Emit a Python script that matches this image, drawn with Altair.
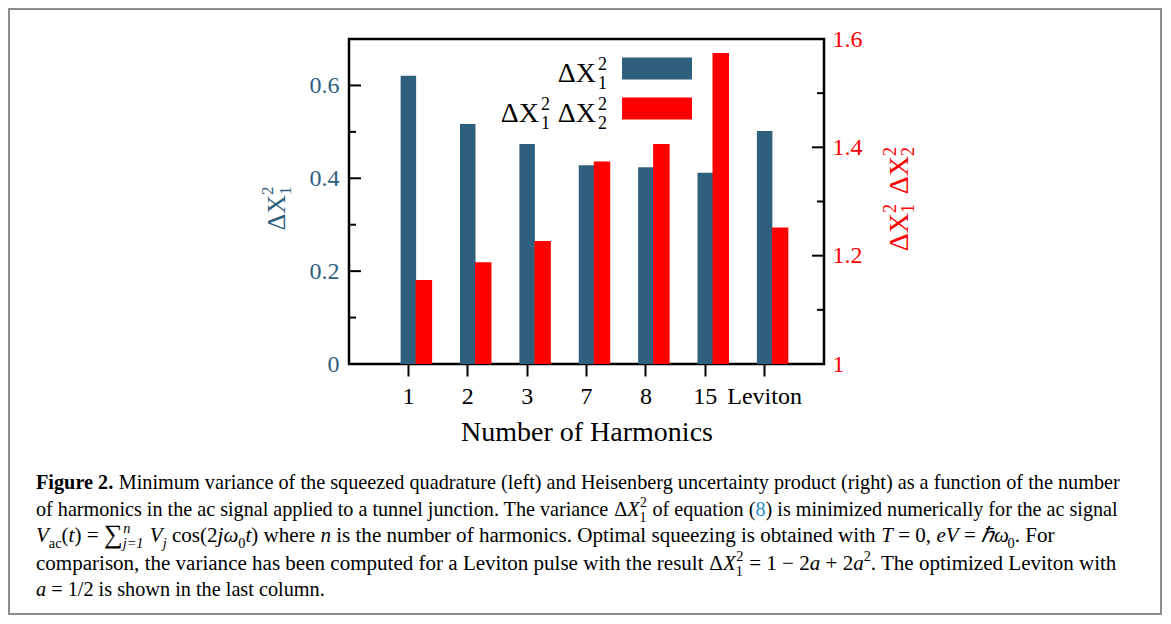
import glob
import struct
import altair as alt
import pandas as pd

# ---------------- data ----------------
harmonics = ["1", "2", "3", "7", "8", "15", "Leviton"]
var_x1 = [0.621, 0.517, 0.474, 0.428, 0.424, 0.412, 0.502]
uncertainty = [1.155, 1.188, 1.227, 1.374, 1.406, 1.574, 1.252]
left_major = [0.0, 0.2, 0.4, 0.6]
left_minor = [0.1, 0.3, 0.5]
right_major = [1.0, 1.2, 1.4, 1.6]
right_minor = [1.1, 1.3, 1.5]

BLUE = "#2F5F7F"
RED = "#FF0000"
LINK = "#2b8ccc"
SERIF = "Liberation Serif"
W, H = 475, 325          # plot area
OX, OY = 349, 39         # page position of plot origin

# ---------------- font metrics (for caption layout) ----------------
def load_metrics(filename):
    try:
        paths = []
        for root in ("/usr/share/fonts", "/usr/local/share/fonts"):
            paths += glob.glob(root + "/**/" + filename, recursive=True)
        if not paths:
            return None
        data = open(paths[0], "rb").read()
        ntab = struct.unpack(">H", data[4:6])[0]
        tables = {}
        for i in range(ntab):
            off = 12 + 16 * i
            tag = data[off:off + 4].decode("latin-1")
            _, toff, tlen = struct.unpack(">III", data[off + 4:off + 16])
            tables[tag] = toff
        head = tables["head"]
        upem = struct.unpack(">H", data[head + 18:head + 20])[0]
        hhea = tables["hhea"]
        nhm = struct.unpack(">H", data[hhea + 34:hhea + 36])[0]
        hm = tables["hmtx"]
        adv = [struct.unpack(">H", data[hm + 4 * i:hm + 4 * i + 2])[0] for i in range(nhm)]
        cm = tables["cmap"]
        nsub = struct.unpack(">H", data[cm + 2:cm + 4])[0]
        o = None
        for i in range(nsub):
            pid, eid, soff = struct.unpack(">HHI", data[cm + 4 + 8 * i:cm + 12 + 8 * i])
            fmt = struct.unpack(">H", data[cm + soff:cm + soff + 2])[0]
            if fmt == 4 and pid in (0, 3):
                o = cm + soff
                break
        if o is None:
            return None
        segx2 = struct.unpack(">H", data[o + 6:o + 8])[0]
        seg = segx2 // 2
        ends = struct.unpack(">%dH" % seg, data[o + 14:o + 14 + segx2])
        starts = struct.unpack(">%dH" % seg, data[o + 16 + segx2:o + 16 + 2 * segx2])
        deltas = struct.unpack(">%dh" % seg, data[o + 16 + 2 * segx2:o + 16 + 3 * segx2])
        rpos = o + 16 + 3 * segx2
        roffs = struct.unpack(">%dH" % seg, data[rpos:rpos + segx2])

        def gid(c):
            for i in range(seg):
                if c <= ends[i]:
                    if c < starts[i]:
                        return 0
                    if roffs[i] == 0:
                        return (c + deltas[i]) & 0xFFFF
                    addr = rpos + 2 * i + roffs[i] + 2 * (c - starts[i])
                    g = struct.unpack(">H", data[addr:addr + 2])[0]
                    return (g + deltas[i]) & 0xFFFF if g else 0
            return 0

        def width(s, size):
            w = 0.0
            for ch in s:
                g = gid(ord(ch))
                w += adv[min(g, nhm - 1)] if g else 0.55 * upem
            return w * size / upem
        return width
    except Exception:
        return None


METRICS = {
    "r": load_metrics("LiberationSerif-Regular.ttf"),
    "i": load_metrics("LiberationSerif-Italic.ttf"),
    "b": load_metrics("LiberationSerif-Bold.ttf"),
}


def measure(s, kind, size):
    f = METRICS.get(kind)
    if f is None:
        return len(s) * 0.45 * size
    return f(s, size)


# ---------------- caption content ----------------
def R(t, c="black"):
    return (t, "r", 1.0, 0.0, c)


def I(t):
    return (t, "i", 1.0, 0.0, "black")


def B(t):
    return (t, "b", 1.0, 0.0, "black")


def SUB(t, k="r"):
    return (t, k, 0.68, 0.28, "black")


def SUP(t, k="r"):
    return (t, k, 0.68, -0.42, "black")


def STK(sup, sub, k="r"):
    return ("stack", sup, sub, k)


caption_lines = [
    [B("Figure 2."), R(" Minimum variance of the squeezed quadrature (left) and Heisenberg uncertainty product (right) as a function of the number")],
    [R("of harmonics in the ac signal applied to a tunnel junction. The variance "), R("Δ"), I("X"), STK("2", "1"),
     R(" of equation ("), R("8", LINK), R(") is minimized numerically for the ac signal")],
    [I("V"), SUB("ac"), R("("), I("t"), R(") = "), ("∑", "r", 1.25, 0.04, "black"), STK("n", "j=1", "i"), R(" "),
     I("V"), SUB("j", "i"), R(" cos(2"), I("jω"), SUB("0"), I("t"), R(") where "), I("n"),
     R(" is the number of harmonics. Optimal squeezing is obtained with "), I("T"), R(" = 0, "), I("eV"),
     R(" = "), I("ℏω"), SUB("0"), R(". For")],
    [R("comparison, the variance has been computed for a Leviton pulse with the result "), R("Δ"), I("X"), STK("2", "1"),
     R(" = 1 − 2"), I("a"), R(" + 2"), I("a"), SUP("2"), R(". The optimized Leviton with")],
    [I("a"), R(" = 1/2 is shown in the last column.")],
]
caption_baselines = [489, 515.5, 542, 569.5, 596]
caption_targets = [1085, 1082, 1040, 1081, 289]
CAP_X = 36


def layout(segs, size):
    items = []
    x = 0.0
    for seg in segs:
        if seg[0] == "stack":
            _, sup, sub, kind = seg
            fs = size * 0.68
            w = max(measure(sup, kind, fs), measure(sub, kind, fs))
            items.append((sup, kind, fs, x + 0.5, -0.42 * size, "black"))
            items.append((sub, kind, fs, x, 0.30 * size, "black"))
            x += w + 1
        else:
            text, kind, scl, dyf, color = seg
            fs = size * scl
            lead = len(text) - len(text.lstrip(" "))
            lw = measure(" " * lead, kind, fs)
            items.append((text.lstrip(" "), kind, fs, x + lw, dyf * size, color))
            x += measure(text, kind, fs)
    return items, x


_, w1 = layout(caption_lines[0], 1.0)
BASE = min(21.0, max(16.0, caption_targets[0] / w1))


def text_layer(s, x, y, size, color="black", align="left", style="normal", weight="normal", angle=0, dy=0):
    mk = dict(align=align, baseline="alphabetic", font=SERIF, fontSize=size, color=color,
              fontStyle=style, fontWeight=weight)
    if angle:
        mk["angle"] = angle
    if dy:
        mk["dy"] = dy
    return alt.Chart(pd.DataFrame({"s": [s]})).mark_text(**mk).encode(
        text="s:N", x=alt.value(x - OX), y=alt.value(y - OY))


caption_layers = []
for segs, base_y, target in zip(caption_lines, caption_baselines, caption_targets):
    _, wl = layout(segs, BASE)
    fac = min(1.04, max(0.97, target / wl))
    items, _ = layout(segs, BASE * fac)
    for text, kind, fs, xo, dyo, color in items:
        if not text:
            continue
        caption_layers.append(text_layer(
            text, CAP_X + xo, base_y + dyo, fs, color=color,
            style="italic" if kind == "i" else "normal",
            weight="bold" if kind == "b" else "normal"))

# ---------------- chart ----------------
df = pd.DataFrame({"n": harmonics, "v": var_x1, "u": uncertainty})

xenc = alt.X(
    "n:N", sort=harmonics,
    scale=alt.Scale(paddingInner=0, paddingOuter=0.5),
    axis=alt.Axis(title="Number of Harmonics", labelAngle=0, labelFont=SERIF, labelFontSize=24,
                  labelColor="black", tickSize=12, tickColor="black", tickWidth=2, domain=False,
                  labelPadding=8, titleFont=SERIF, titleFontSize=28, titleFontWeight="normal",
                  titlePadding=10, titleColor="black", grid=False))

left_scale = alt.Scale(domain=[0, 0.7], nice=False, zero=False)
right_scale = alt.Scale(domain=[1, 1.6], nice=False, zero=False)

left_axis = alt.Axis(title=None, orient="left", values=left_major,
                     labelExpr="datum.value == 0 ? '0' : format(datum.value, '.1f')",
                     ticks=False, tickSize=0, domain=False, grid=False,
                     labelFont=SERIF, labelFontSize=24, labelColor=BLUE, labelPadding=10)
right_axis = alt.Axis(title=None, orient="right", values=right_major,
                      labelExpr="datum.value == 1 ? '1' : format(datum.value, '.1f')",
                      ticks=False, tickSize=0, domain=False, grid=False,
                      labelFont=SERIF, labelFontSize=24, labelColor=RED, labelPadding=8)

blue_bars = alt.Chart(df).mark_bar(color=BLUE, width=15.5).encode(
    x=xenc,
    y=alt.Y("v:Q", scale=left_scale, axis=left_axis),
    y2=alt.datum(0),
)

lmaj = alt.Chart(pd.DataFrame({"t": left_major})).mark_rule(color="black", strokeWidth=2).encode(
    y=alt.Y("t:Q", scale=left_scale, axis=left_axis), x=alt.value(0), x2=alt.value(12))
lmin = alt.Chart(pd.DataFrame({"t": left_minor})).mark_rule(color="black", strokeWidth=2).encode(
    y=alt.Y("t:Q", scale=left_scale, axis=left_axis), x=alt.value(0), x2=alt.value(7))

red_bars = alt.Chart(df).mark_bar(color=RED, width=16.5, xOffset=15.5).encode(
    x=xenc,
    y=alt.Y("u:Q", scale=right_scale, axis=right_axis),
    y2=alt.datum(1),
)

rmaj = alt.Chart(pd.DataFrame({"t": right_major})).mark_rule(color="black", strokeWidth=2).encode(
    y=alt.Y("t:Q", scale=right_scale, axis=right_axis), x=alt.value(W - 12), x2=alt.value(W))
rmin = alt.Chart(pd.DataFrame({"t": right_minor})).mark_rule(color="black", strokeWidth=2).encode(
    y=alt.Y("t:Q", scale=right_scale, axis=right_axis), x=alt.value(W - 7), x2=alt.value(W))

left_group = alt.layer(blue_bars, lmaj, lmin)
right_group = alt.layer(red_bars, rmaj, rmin)

# ---------------- legend (drawn inside the plot) ----------------
def swatch(color, x1, x2, y1, y2):
    return alt.Chart(pd.DataFrame({"k": [0]})).mark_rect(color=color).encode(
        x=alt.value(x1 - OX), x2=alt.value(x2 - OX), y=alt.value(y1 - OY), y2=alt.value(y2 - OY))


legend_layers = [
    swatch(BLUE, 622, 692, 57.5, 79.5),
    swatch(RED, 622, 692, 97.5, 119.5),
    text_layer("ΔX", 596, 82, 28, align="right"),
    text_layer("2", 598, 69.5, 18),
    text_layer("1", 598, 88.5, 18),
    text_layer("ΔX", 539, 122, 28, align="right"),
    text_layer("2", 541, 109.5, 18),
    text_layer("1", 541, 128.5, 18),
    text_layer("ΔX", 596, 122, 28, align="right"),
    text_layer("2", 598, 109.5, 18),
    text_layer("2", 598, 128.5, 18),
]

# ---------------- axis titles (rotated) ----------------
title_layers = [
    text_layer("ΔX", 285, 195, 26, color=BLUE, align="right", angle=270),
    text_layer("2", 285, 195, 17, color=BLUE, align="left", angle=270, dy=-12),
    text_layer("1", 285, 195, 17, color=BLUE, align="left", angle=270, dy=6),
    text_layer("ΔX", 908, 213, 28, color=RED, align="right", angle=270),
    text_layer("2", 908, 213, 18, color=RED, align="left", angle=270, dy=-12),
    text_layer("1", 908, 213, 18, color=RED, align="left", angle=270, dy=5.5),
    text_layer("ΔX", 908, 156, 28, color=RED, align="right", angle=270),
    text_layer("2", 908, 156, 18, color=RED, align="left", angle=270, dy=-12),
    text_layer("2", 908, 156, 18, color=RED, align="left", angle=270, dy=5.5),
]

frame = alt.Chart(pd.DataFrame({"k": [0]})).mark_rect(
    fillOpacity=0, stroke="#8c8c8c", strokeWidth=2).encode(
    x=alt.value(9 - OX), x2=alt.value(1161 - OX), y=alt.value(9 - OY), y2=alt.value(614 - OY))

chart = alt.layer(
    left_group, right_group, frame, *legend_layers, *title_layers, *caption_layers
).resolve_scale(y="independent").properties(
    width=W, height=H, padding=0, background="white"
).configure_view(
    stroke="black", strokeWidth=2.5
).configure_axis(
    grid=False
)

chart.save("out.html", embed_options={"renderer": "svg", "actions": False})
